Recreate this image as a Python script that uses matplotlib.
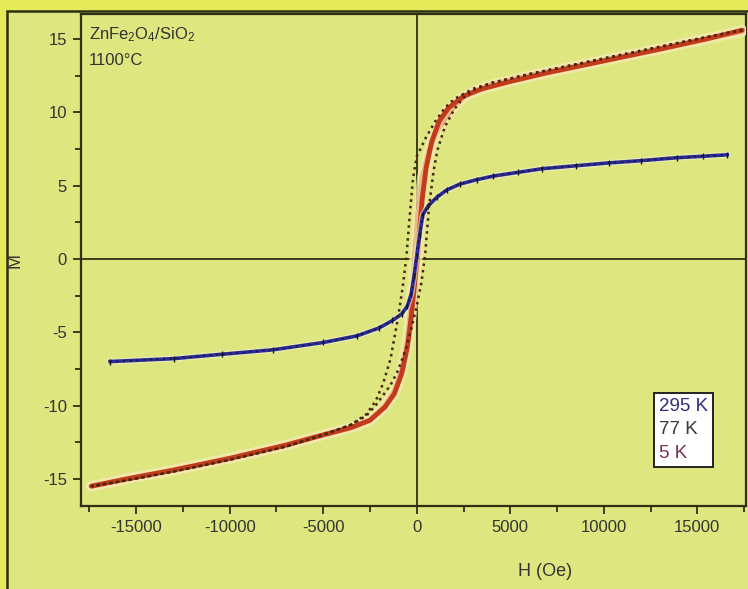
import matplotlib
matplotlib.use("Agg")
import matplotlib.pyplot as plt
import matplotlib.patheffects as pe
from matplotlib.patches import Rectangle
from matplotlib.ticker import MultipleLocator

plt.rcParams["font.family"] = ["Liberation Sans", "DejaVu Sans"]
plt.rcParams["mathtext.fontset"] = "custom"
plt.rcParams["mathtext.rm"] = "Liberation Sans"
plt.rcParams["mathtext.it"] = "Liberation Sans:italic"
plt.rcParams["axes.unicode_minus"] = False

# ---- data (H in Oe, M in emu/g) ----
# 295 K : single branch, no visible hysteresis
h_295 = [-16400, -13000, -10400, -7700, -5000, -3200, -2000, -1300, -800, -500,
         -300, -150, 0, 150, 320, 600, 1070, 1600, 2300, 3200, 4100, 5400,
         6700, 8500, 10300, 12000, 13900, 15300, 16600]
m_295 = [-7.0, -6.8, -6.5, -6.2, -5.7, -5.25, -4.7, -4.2, -3.75, -3.2,
         -2.4, -1.2, 0.2, 1.6, 3.0, 3.6, 4.2, 4.7, 5.1, 5.4, 5.65, 5.9,
         6.15, 6.35, 6.55, 6.7, 6.9, 7.0, 7.1]

# 77 K : wider loop (dotted points)
h_77_down = [17400, 15000, 12000, 9000, 6000, 4000, 3000, 2000, 1500, 1000,
             500, 0, -200, -400, -550, -750, -1000, -1400, -1800, -2200,
             -2700, -3500, -5000, -7000, -10000, -13000, -15500, -17400]
m_77_down = [15.6, 15.0, 14.2, 13.4, 12.6, 12.0, 11.6, 10.9, 10.3, 9.4,
             8.3, 7.0, 5.5, 2.6, 0.2, -1.9, -4.0, -6.8, -8.5, -9.7,
             -10.6, -11.3, -12.0, -12.8, -13.7, -14.5, -15.1, -15.5]
h_77_up = [-17400, -15500, -13000, -10000, -7000, -5000, -3500, -2700, -2200,
           -1800, -1400, -1000, -600, -300, 0, 250, 450, 650, 900, 1100, 1500,
           2000, 2500, 3000, 4000, 6000, 9000, 12000, 15000, 17400]
m_77_up = [-15.5, -15.1, -14.5, -13.7, -12.8, -12.0, -11.3, -10.7, -10.0,
           -9.3, -8.6, -7.6, -6.2, -4.8, -3.2, -1.6, 0.3, 3.5, 6.0, 7.4, 9.0,
           10.2, 11.0, 11.5, 12.0, 12.6, 13.4, 14.2, 15.0, 15.6]

# 5 K : narrow loop (thick red band)
h_5_down = [17400, 15000, 12000, 9000, 6000, 4000, 3000, 2500, 2000, 1500,
            1000, 600, 300, 100, -50, -150, -300, -500, -800, -1200, -1700,
            -2500, -3500, -5000, -7000, -10000, -13000, -15500, -17400]
m_5_down = [15.5, 14.9, 14.1, 13.3, 12.5, 11.9, 11.4, 11.0, 10.4, 9.6,
            8.5, 7.2, 5.6, 3.5, 1.0, -0.5, -3.0, -5.5, -7.5, -9.0, -10.0,
            -11.0, -11.5, -12.0, -12.7, -13.6, -14.4, -15.0, -15.5]
h_5_up = [-17400, -15500, -13000, -10000, -7000, -5000, -3500, -2500, -1700,
          -1200, -800, -500, -300, -100, 50, 150, 300, 500, 800, 1200, 1700,
          2500, 3500, 5000, 7000, 10000, 13000, 15500, 17400]
m_5_up = [-15.5, -15.0, -14.4, -13.6, -12.7, -12.0, -11.5, -11.0, -10.1,
          -9.2, -7.8, -6.0, -4.0, -1.5, 0.3, 2.0, 4.2, 6.2, 8.0, 9.4, 10.3,
          11.1, 11.6, 12.1, 12.7, 13.5, 14.3, 15.0, 15.6]

legend_labels = ["295 K", "77 K", "5 K"]
legend_colors = ["#2e2e78", "#3a3a3a", "#7c2f55"]

BG = "#dee67f"
OUTER = "#e4ea58"
DARK = "#2f2f14"

fig = plt.figure(figsize=(7.48, 5.89), dpi=100, facecolor=OUTER)
# outer frame
fig.add_artist(Rectangle((7 / 748, -0.01), 1.0, 0.99 + 0.0006, transform=fig.transFigure,
                         facecolor=BG, edgecolor=DARK, linewidth=1.8, zorder=0))
ax = fig.add_axes([81 / 748, 83 / 589, 665 / 748, 492 / 589])
ax.set_facecolor(BG)

halo = [pe.Stroke(linewidth=7.5, foreground="#f4e9b0", alpha=0.75), pe.Normal()]
halo_thin = [pe.Stroke(linewidth=4.5, foreground="#f1efc8", alpha=0.6), pe.Normal()]

ax.axhline(0, color=DARK, lw=1.3, zorder=1)
ax.axvline(0, color=DARK, lw=1.3, zorder=1)

# 5 K red band
for h, m in [(h_5_down, m_5_down), (h_5_up, m_5_up)]:
    ax.plot(h, m, color="#c23b1a", lw=3.5, solid_capstyle="round",
            path_effects=halo, zorder=3)
# 295 K blue
ax.plot(h_295, m_295, color="#2a2a9a", lw=2.6, path_effects=halo_thin, zorder=4)
ax.plot(h_295, m_295, color="#151515", lw=1.2, ls=(0, (1, 3)), zorder=5)
ax.plot(h_295, m_295, ls="none", marker="|", ms=4, mew=1, color="#151515", zorder=5)
# 77 K dotted loop
for h, m in [(h_77_down, m_77_down), (h_77_up, m_77_up)]:
    ax.plot(h, m, color="#4a2410", lw=1.8, ls=(0, (1, 1.6)), zorder=6)

ax.set_xlim(-17950, 17600)
ax.set_ylim(-16.85, 16.7)
ax.xaxis.set_major_locator(MultipleLocator(5000))
ax.xaxis.set_minor_locator(MultipleLocator(2500))
ax.yaxis.set_major_locator(MultipleLocator(5))
ax.yaxis.set_minor_locator(MultipleLocator(2.5))
ax.tick_params(which="major", length=6, width=1.3, color=DARK, labelsize=12,
               labelcolor="#333333", pad=4)
ax.tick_params(which="minor", length=4, width=1.3, color=DARK)
for s in ax.spines.values():
    s.set_color(DARK)
    s.set_linewidth(1.6)

ax.set_xlabel("H (Oe)", fontsize=13, color="#333333")
ax.xaxis.set_label_coords(0.698, -0.115)
ax.set_ylabel("M", fontsize=13, color="#333333")
ax.yaxis.set_label_coords(-0.087, 0.5)

ax.text(0.012, 0.958, "ZnFe$_2$O$_4$/SiO$_2$", transform=ax.transAxes,
        fontsize=12, color="#333333", va="center", ha="left")
ax.text(0.012, 0.905, "1100\u00b0C", transform=ax.transAxes,
        fontsize=12, color="#333333", va="center", ha="left")

handles = [plt.Line2D([], [], ls="none") for _ in legend_labels]
leg = ax.legend(handles, legend_labels, loc="upper left",
                bbox_to_anchor=((654 - 81) / 665, (506 - 393) / 492),
                borderaxespad=0, handlelength=0, handletextpad=0,
                fontsize=13.5, labelspacing=0.35, borderpad=0.25,
                fancybox=False, framealpha=1, facecolor="white",
                edgecolor="#222222")
leg.get_frame().set_linewidth(1.4)
for t, c in zip(leg.get_texts(), legend_colors):
    t.set_color(c)

fig.savefig("out.png", dpi=100, facecolor=fig.get_facecolor())
